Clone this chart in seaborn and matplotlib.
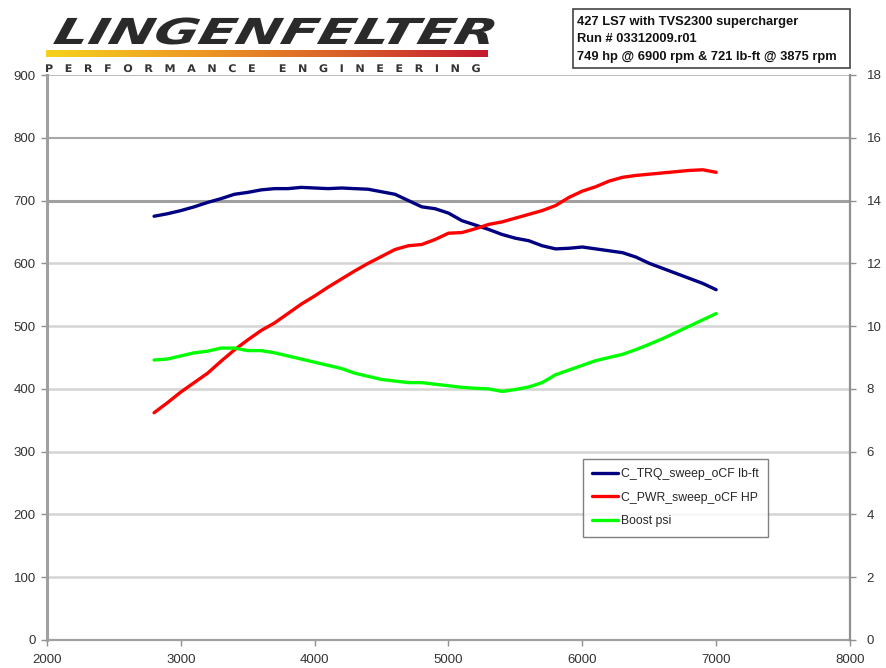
import numpy as np
import pandas as pd
import matplotlib
matplotlib.use("Agg")
import matplotlib.pyplot as plt
import seaborn as sns
from matplotlib.lines import Line2D
from matplotlib.patches import Rectangle
from matplotlib.patheffects import AbstractPathEffect
from matplotlib.transforms import Affine2D

rpm = [2800, 2900, 3000, 3100, 3200, 3300, 3400, 3500, 3600, 3700, 3800, 3900,
       4000, 4100, 4200, 4300, 4400, 4500, 4600, 4700, 4800, 4900, 5000, 5100,
       5200, 5300, 5400, 5500, 5600, 5700, 5800, 5900, 6000, 6100, 6200, 6300,
       6400, 6500, 6600, 6700, 6800, 6900, 7000]
torque = [675, 679, 684, 690, 697, 703, 710, 713, 717, 719, 719, 721,
          720, 719, 720, 719, 718, 714, 710, 700, 690, 687, 680, 668,
          661, 654, 646, 640, 636, 628, 623, 624, 626, 623, 620, 617,
          610, 600, 592, 584, 576, 568, 558]
power = [362, 378, 395, 410, 425, 444, 462, 478, 493, 505, 520, 535,
         548, 562, 575, 588, 600, 611, 622, 628, 630, 638, 648, 649,
         655, 662, 666, 672, 678, 684, 692, 705, 715, 722, 731, 737,
         740, 742, 744, 746, 748, 749, 745]
boost = [8.92, 8.95, 9.05, 9.15, 9.2, 9.3, 9.3, 9.22, 9.22, 9.15, 9.05, 8.95,
         8.85, 8.75, 8.65, 8.5, 8.4, 8.3, 8.25, 8.2, 8.2, 8.15, 8.1, 8.05,
         8.02, 8.0, 7.92, 7.98, 8.06, 8.2, 8.45, 8.6, 8.75, 8.9, 9.0, 9.1,
         9.25, 9.42, 9.6, 9.8, 10.0, 10.2, 10.4]

series_names = ["C_TRQ_sweep_oCF lb-ft", "C_PWR_sweep_oCF HP", "Boost psi"]
colors = ["#000080", "#ff0000", "#00ff00"]
xticks = [2000, 3000, 4000, 5000, 6000, 7000, 8000]
yticks_left = [0, 100, 200, 300, 400, 500, 600, 700, 800, 900]
yticks_right = [0, 2, 4, 6, 8, 10, 12, 14, 16, 18]
info_lines = ["427 LS7 with TVS2300 supercharger",
              "Run # 03312009.r01",
              "749 hp @ 6900 rpm & 721 lb-ft @ 3875 rpm"]
logo_name = "LINGENFELTER"
logo_words = ["PERFORMANCE", "ENGINEERING"]


class Stretch(AbstractPathEffect):
    """Scale/skew glyph outlines about the text origin (text stays text)."""
    def __init__(self, sx=1.0, sy=1.0, skew=0.0):
        super().__init__()
        self.local = Affine2D().scale(sx, sy).skew_deg(skew, 0)

    def draw_path(self, renderer, gc, tpath, affine, rgbFace=None):
        renderer.draw_path(gc, tpath, self.local + affine, rgbFace)


df = pd.DataFrame({"rpm": rpm, "torque": torque, "power": power, "boost": boost})

sns.set_style("white")
plt.rcParams["font.family"] = ["Liberation Sans", "DejaVu Sans"]

W, H = 887, 668
fig = plt.figure(figsize=(W / 100, H / 100), dpi=100)
ax = fig.add_axes([47 / W, 28 / H, 803 / W, 565 / H])
ax2 = ax.twinx()

sns.lineplot(data=df, x="rpm", y="torque", ax=ax, color=colors[0], lw=2.4, zorder=5)
sns.lineplot(data=df, x="rpm", y="power", ax=ax, color=colors[1], lw=2.4, zorder=5)
sns.lineplot(data=df, x="rpm", y="boost", ax=ax2, color=colors[2], lw=2.4, zorder=5)

ax.set_xlim(2000, 8000)
ax.set_ylim(0, 900)
ax2.set_ylim(0, 18)
ax.set_xticks(xticks)
ax.set_yticks(yticks_left)
ax2.set_yticks(yticks_right)
ax.set_xlabel("")
ax.set_ylabel("")
ax2.set_ylabel("")

# gridlines
for v in yticks_left[1:-1]:
    if v == 700:
        ax.axhline(v, color="#a0a0a0", lw=2.2, zorder=1)
    elif v == 800:
        ax.axhline(v, color="#a8a8a8", lw=1.5, zorder=1)
    else:
        ax.axhline(v, color="#d4d4d4", lw=1.8, zorder=1)

for a in (ax, ax2):
    for s in a.spines.values():
        s.set_visible(False)
ax.spines["left"].set_visible(True)
ax.spines["left"].set_color("#a0a0a0")
ax.spines["left"].set_linewidth(2.2)
ax.spines["bottom"].set_visible(True)
ax.spines["bottom"].set_color("#a0a0a0")
ax.spines["bottom"].set_linewidth(1.6)
ax2.spines["right"].set_visible(True)
ax2.spines["right"].set_color("#909090")
ax2.spines["right"].set_linewidth(1.6)
ax.axhline(900, color="#b0b0b0", lw=1.2, zorder=1)

ax.tick_params(axis="both", which="both", length=4, width=1, color="#909090",
               labelsize=9.5, labelcolor="#333333", direction="out")
ax.tick_params(axis="y", left=True, pad=4)
ax.tick_params(axis="x", bottom=True, pad=6)
ax2.tick_params(axis="y", right=True, length=4, width=1, color="#909090",
                labelsize=9.5, labelcolor="#333333", pad=8)

handles = [Line2D([0], [0], color=c, lw=2.4) for c in colors]
leg = ax.legend(handles, series_names, loc="upper left",
                bbox_to_anchor=(0.6675, 0.3204), borderaxespad=0, frameon=True,
                fancybox=False, fontsize=8.8, handlelength=2.1, handletextpad=0.25,
                labelspacing=0.95, borderpad=0.75)
leg.get_frame().set_edgecolor("#606060")
leg.get_frame().set_linewidth(1.0)
leg.set_zorder(10)
if ax2.get_legend() is not None:
    ax2.get_legend().remove()

# Logo
fig.text(52 / W, 1 - 44 / H, logo_name, fontsize=39, fontweight="heavy",
         style="italic", color="#2a2a2a", family=["DejaVu Sans"], va="baseline",
         path_effects=[Stretch(sx=1.0, sy=0.66, skew=14)])
grad_ax = fig.add_axes([46 / W, 1 - 57 / H, 442 / W, 7 / H])
grad = np.linspace(0, 1, 256).reshape(1, -1)
cmap = matplotlib.colors.LinearSegmentedColormap.from_list(
    "lg", ["#f5d21c", "#ee9a24", "#d9602a", "#c41a2e"])
grad_ax.imshow(grad, aspect="auto", cmap=cmap)
grad_ax.axis("off")
logo_sub = "      ".join("   ".join(w) for w in logo_words)
fig.text(45 / W, 1 - 72 / H, logo_sub, fontsize=8, fontweight="bold",
         color="#333333", va="baseline", family=["DejaVu Sans"],
         path_effects=[Stretch(sx=1.0, sy=0.95)])

# Info box
fig.patches.append(Rectangle((573 / W, 1 - 68 / H), 277 / W, 59 / H,
                             transform=fig.transFigure, fc="white", ec="#444444",
                             lw=1.2, zorder=1))
for i, line in enumerate(info_lines):
    fig.text(577 / W, 1 - (22 + 17.5 * i) / H, line, fontsize=9.3, fontweight="bold",
             color="#111111", va="center", ha="left", zorder=2)

fig.savefig("out.png", dpi=100)
